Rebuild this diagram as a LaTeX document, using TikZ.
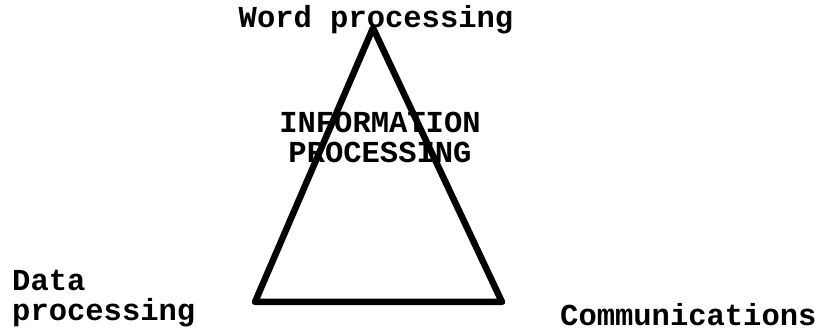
\documentclass[tikz,border=0pt]{standalone}
\usepackage{fontspec}
\setmonofont{Liberation Mono}
\usepackage{tikz}
\usetikzlibrary{positioning}
\tikzset{
  etiq/.style={inner sep=0pt, font=\ttfamily\bfseries\fontsize{30.5}{#1}\selectfont},
  etiq/.default=30,
  bord/.style={line width=6.5pt, line join=round, line cap=round, draw=black},
}
\begin{document}
\begin{tikzpicture}[x=1pt, y=-1pt]
     \useasboundingbox (0,0) rectangle (828,331);
     \coordinate (haut) at (373,28);
     \coordinate (gauche) at (255,302);
     \coordinate (droite) at (502,302);
     \draw[bord] (haut) -- (gauche) -- (droite) -- cycle;
     \node[etiq, anchor=base] (wp) at (376,28) {Word processing};
     \node[etiq=30, anchor=base, align=center] (ip) at (380,163) {INFORMATION\\PROCESSING};
     \node[etiq=30, anchor=base west, align=left] (dp) at (12,321) {Data\\processing};
     \node[etiq, anchor=base west] (cm) at (560,326) {Communications};
   \end{tikzpicture}
\end{document}
